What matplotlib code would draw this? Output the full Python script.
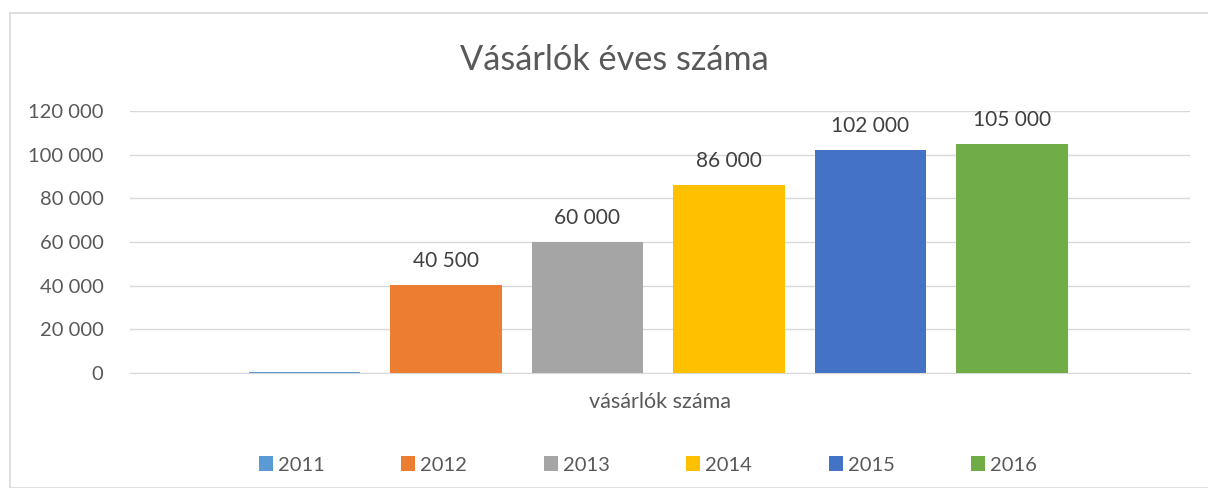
import matplotlib.pyplot as plt
from matplotlib.patches import Rectangle

years = ["2011", "2012", "2013", "2014", "2015", "2016"]
values = [300, 40500, 60000, 86000, 102000, 105000]
show_label = [False, True, True, True, True, True]
colors = ["#5B9BD5", "#ED7D31", "#A5A5A5", "#FFC000", "#4472C4", "#70AD47"]
yticks = [0, 20000, 40000, 60000, 80000, 100000, 120000]

plt.rcParams['font.family'] = ['Lato', 'DejaVu Sans']
txt = "#595959"

W, H = 1208, 488
fig = plt.figure(figsize=(W / 100, H / 100), dpi=100)

# chart frame
fig.patches.append(Rectangle((10 / W, 0), 1.2, 1 - 13 / H, transform=fig.transFigure,
                             fill=False, edgecolor="#D9D9D9", linewidth=1.2))

ax = fig.add_axes([130 / W, 1 - 373 / H, (1190 - 130) / W, (373 - 111) / H])

def fmt(v):
    return f"{v:,.0f}".replace(",", " ")

x = list(range(len(years)))
bars = ax.bar(x, values, width=0.79, color=colors, label=years, zorder=3)
for xi, v, s in zip(x, values, show_label):
    if s:
        ax.annotate(fmt(v), (xi, v), xytext=(0, 10), textcoords="offset points",
                    ha="center", va="bottom", fontsize=15, color="#404040")

ax.set_xlim(-1.233, 5 + 1.258)
ax.set_ylim(0, 120000)
ax.set_yticks(yticks)
ax.set_yticklabels([fmt(t) for t in yticks], fontsize=14.5, color=txt)
ax.set_xticks([])
ax.tick_params(axis="y", length=0, pad=19)
ax.grid(axis="y", color="#D9D9D9", linewidth=1, zorder=0)
for sp in ["top", "left", "right"]:
    ax.spines[sp].set_visible(False)
ax.spines["bottom"].set_color("#D9D9D9")
ax.set_xlabel("vásárlók száma", fontsize=15.5, color=txt, labelpad=14)

fig.text(614 / W, 1 - 60 / H, "Vásárlók éves száma", ha="center", va="center",
         fontsize=24.7, color=txt)

leg = fig.legend(handles=list(bars), labels=years, loc="center", ncol=6,
                 bbox_to_anchor=(648 / W, 1 - 465 / H), frameon=False,
                 fontsize=14.5, handlelength=0.7, handleheight=0.7,
                 handletextpad=0.25, columnspacing=3.8)
for t in leg.get_texts():
    t.set_color(txt)

fig.savefig("out.png", dpi=100)
